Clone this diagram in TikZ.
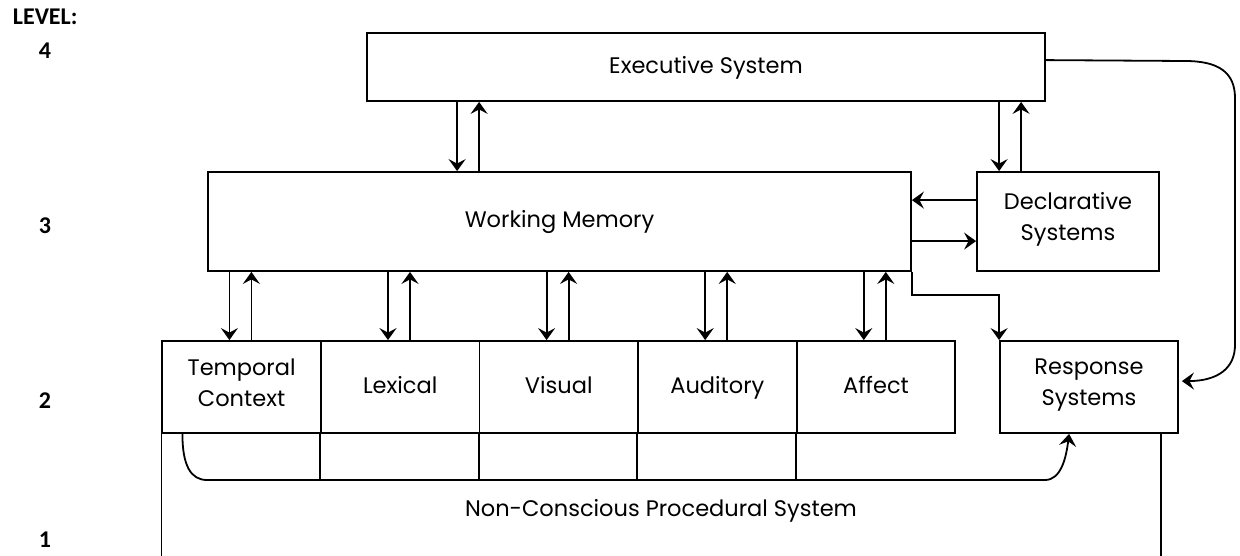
\documentclass[tikz,border=0pt]{standalone}
\usepackage{fontspec}
\setmainfont{Poppins}
\newfontfamily\lvlfont{Carlito}
\usetikzlibrary{arrows.meta}
\begin{document}
\begin{tikzpicture}[x=1pt,y=-1pt,line width=1.8pt,
  box/.style={draw,line width=1.8pt,inner sep=0pt,align=center,font=\fontsize{22.5}{31}\selectfont,
    execute at begin node=\strut,execute at end node=\strut},
  lbl/.style={inner sep=0pt,font=\fontsize{22.5}{31}\selectfont},
  arr/.style={-{Stealth[length=12pt,width=17pt,inset=4.5pt]}},
  lvl/.style={inner sep=0pt,font=\lvlfont\bfseries\fontsize{24}{26}\selectfont}]
\useasboundingbox (0,0) rectangle (1240,556);
\coordinate (bot) at (0,560);
% level labels
\node[lvl,anchor=west] (lv) at (12,17) {LEVEL:};
\node[lvl] (l4) at (45,51) {4};
\node[lvl] (l3) at (45,226) {3};
\node[lvl] (l2) at (45,401) {2};
\node[lvl] (l1) at (45,540) {1};
% boxes
\node[box,minimum width=678,minimum height=68] (exec) at (706,67) {Executive System};
\node[box,minimum width=703,minimum height=99] (wm) at (559.5,221.5) {Working Memory};
\node[box,minimum width=182,minimum height=99] (decl) at (1068,221.5) {Declarative\\Systems};
\node[box,minimum width=178,minimum height=92] (resp) at (1089,387) {Response\\Systems};
\node[box,minimum width=158.6,minimum height=92] (tc) at (241.6,387) {Temporal\\Context};
\node[box,minimum width=158.6,minimum height=92] (lex) at (400.2,387) {Lexical};
\node[box,minimum width=158.6,minimum height=92] (vis) at (558.8,387) {Visual};
\node[box,minimum width=158.6,minimum height=92] (aud) at (717.4,387) {Auditory};
\node[box,minimum width=158.6,minimum height=92] (aff) at (876,387) {Affect};
\node[lbl] (nc) at (661,511) {Non-Conscious Procedural System};
% non-conscious system outline
\draw (tc.south west) -- (tc.south west |- bot);
\draw ([xshift=-18]resp.south east) -- ([xshift=-18]resp.south east |- bot);
% exec <-> wm
\draw[arr] ([xshift=91]exec.south west) -- ([xshift=91]exec.south west |- wm.north);
\draw[arr] ([xshift=113]exec.south west |- wm.north) -- ([xshift=113]exec.south west);
% exec <-> decl
\draw[arr] ([xshift=23]decl.north west |- exec.south) -- ([xshift=23]decl.north west);
\draw[arr] ([xshift=45]decl.north west) -- ([xshift=45]decl.north west |- exec.south);
% wm <-> decl
\draw[arr] ([yshift=-29]decl.north west) -- ([yshift=-29]decl.north west -| wm.east);
\draw[arr] ([yshift=-70]wm.north east) -- ([yshift=-70]wm.north east -| decl.west);
% wm -> response
\draw[arr] (wm.south east) -- ++(0,23) -| (resp.north west);
% wm <-> row boxes
\foreach \b in {tc,lex,vis,aud,aff}{
  \draw[arr] ([xshift=68]\b.north west |- wm.south) -- ([xshift=68]\b.north west);
  \draw[arr] ([xshift=90]\b.north west) -- ([xshift=90]\b.north west |- wm.south);
}
% bottom connectors
\foreach \b in {lex,vis,aud,aff}{
  \draw (\b.south west) -- ++(0,47);
}
\coordinate (cl) at (207,480);
\coordinate (cr) at (1045,480);
\draw[arr] ([xshift=21]tc.south west) .. controls +(0,32) and +(-16,0) .. (cl) -- (cr) .. controls +(16,0) and +(-3,24) .. ([xshift=70]resp.south west);
% exec -> response
\draw[arr] ([yshift=-28]exec.north east) -- (1185,61) .. controls (1218,61) and (1235,72) .. (1235,98) -- (1235,345) .. controls (1235,368) and (1218,381) .. ([xshift=3,yshift=-41]resp.north east);
\end{tikzpicture}
\end{document}
